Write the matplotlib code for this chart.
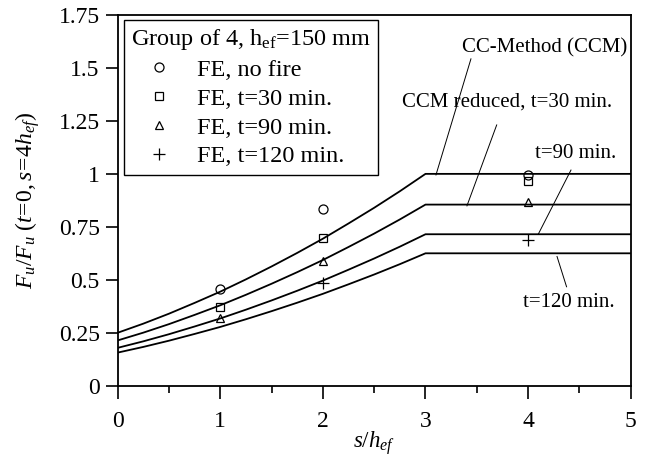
import matplotlib.pyplot as plt
from matplotlib.lines import Line2D

plt.rcParams['font.family'] = 'Liberation Serif'
plt.rcParams['mathtext.fontset'] = 'custom'
plt.rcParams['mathtext.rm'] = 'Liberation Serif'
plt.rcParams['mathtext.it'] = 'Liberation Serif:italic'

# CC-Method ratio F/F(s=4h_ef)
s_ccm = [0, 0.25, 0.5, 0.75, 1.0, 1.25, 1.5, 1.75, 2.0, 2.25, 2.5, 2.75, 3.0, 5.0]
f_ccm = [0.25, 0.293, 0.340, 0.391, 0.444, 0.502, 0.563, 0.627, 0.694,
         0.766, 0.840, 0.918, 1.0, 1.0]
# reduction of the CCM curve for each fire duration
reductions = [1.0, 0.855, 0.715, 0.625]

# FE results
s_fe = [1, 2, 4]
fe_nofire = [0.457, 0.836, 0.995]
fe_30 = [0.372, 0.697, 0.968]
fe_90 = [0.321, 0.590, 0.869]
s_fe120 = [2, 4]
fe_120 = [0.485, 0.688]

xticks = [0, 1, 2, 3, 4, 5]
yticks = [0, 0.25, 0.5, 0.75, 1, 1.25, 1.5, 1.75]
ytick_labels = ['0', '0.25', '0.5', '0.75', '1', '1.25', '1.5', '1.75']

fig = plt.figure(figsize=(6.51, 4.59), dpi=100)
ax = fig.add_axes([0.1808, 0.1597, 0.788, 0.8076])

for r in reductions:
    ax.plot(s_ccm, [v * r for v in f_ccm], color='black', lw=1.3, zorder=2)

mk = dict(linestyle='none', color='black', mfc='none', mew=0.9, zorder=3)
ax.plot(s_fe, fe_nofire, marker='o', ms=6.5, **mk)
ax.plot(s_fe, fe_30, marker='s', ms=6, **mk)
ax.plot(s_fe, fe_90, marker='^', ms=6, **mk)
ax.plot(s_fe120, fe_120, marker='+', ms=8, **mk)

# leaders and curve labels
lw_lead = 0.7
fs_note = 15
ax.plot([3.443, 3.102], [1.543, 0.995], color='black', lw=lw_lead)
ax.text(4.165, 1.594, 'CC-Method (CCM)', ha='center', va='center', fontsize=fs_note)
ax.plot([3.694, 3.404], [1.231, 0.849], color='black', lw=lw_lead)
ax.text(3.794, 1.341, 'CCM reduced, t=30 min.', ha='center', va='center', fontsize=fs_note)
ax.plot([4.418, 4.101], [1.018, 0.717], color='black', lw=lw_lead)
ax.text(4.467, 1.094, 't=90 min.', ha='center', va='center', fontsize=fs_note)
ax.plot([4.282, 4.375], [0.610, 0.467], color='black', lw=lw_lead)
ax.text(4.399, 0.395, 't=120 min.', ha='center', va='center', fontsize=fs_note)

ax.set_xlim(0, 5)
ax.set_ylim(0, 1.75)
ax.set_xticks(xticks)
ax.set_xticklabels([str(t) for t in xticks])
ax.set_xticks([0.5, 1.5, 2.5, 3.5, 4.5], minor=True)
ax.set_yticks(yticks)
ax.set_yticklabels(ytick_labels)
ax.tick_params(which='major', direction='out', length=9, width=1.2, labelsize=17,
               top=False, right=False)
ax.tick_params(axis='x', which='major', pad=9)
ax.tick_params(axis='y', which='major', pad=4)
ax.tick_params(which='minor', direction='out', length=5, width=1.2,
               top=False, right=False)
for sp in ax.spines.values():
    sp.set_linewidth(1.3)

ax.set_xlabel(r'$\mathit{s/h_{ef}}$', fontsize=16.5, labelpad=-2)
ax.set_ylabel(r'$\mathit{F_u/F_u\ (t\!=\!0,s\!=\!4h_{ef})}$', fontsize=17, labelpad=12)

handles = [
    Line2D([], [], marker='o', ms=6.5, **mk),
    Line2D([], [], marker='s', ms=6, **mk),
    Line2D([], [], marker='^', ms=6, **mk),
    Line2D([], [], marker='+', ms=8, **mk),
]
leg = ax.legend(handles, ['FE, no fire', 'FE, t=30 min.', 'FE, t=90 min.', 'FE, t=120 min.'],
                title=r'Group of 4, h$_{\rm ef}$=150 mm', loc='upper left',
                bbox_to_anchor=(0.012, 0.987), fontsize=17.5, title_fontsize=17.5,
                frameon=True, fancybox=False, edgecolor='black', framealpha=1,
                borderpad=0.3, labelspacing=0.28, handletextpad=0.4, handlelength=2.3,
                borderaxespad=0.0)
leg.get_frame().set_linewidth(1.0)
leg._legend_box.align = 'left'

fig.savefig('out.png', dpi=100)
